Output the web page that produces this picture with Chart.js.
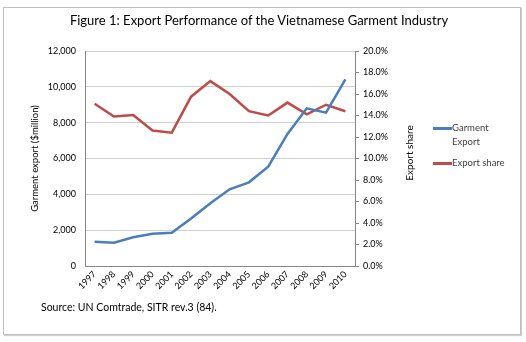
<!DOCTYPE html>
<html lang="en">
<head>
<meta charset="UTF-8">
<title>Export Performance of the Vietnamese Garment Industry</title>
<style>
  html, body { margin: 0; padding: 0; background: #fff; }
  body { width: 526px; height: 342px; position: relative; overflow: hidden; font-family: Lato, sans-serif; color: #404040; }
  #frame {
    position: absolute; left: 3px; top: 7px; width: 516px; height: 326px;
    border: 1px solid #bfbfbf; box-shadow: 1px 1px 1px #d0d0d0;
  }
  #chart { position: absolute; left: 0; top: 0; }
  #title {
    position: absolute; left: 0; width: 518px; top: 12px;
    text-align: center; font-size: 13px; color: #000;
  }
  #rightTitle {
    position: absolute; left: 409px; top: 153px; font-size: 10px; color: #000;
    white-space: nowrap; transform: translate(-50%, -50%) rotate(-90deg);
  }
  #source { position: absolute; left: 41px; top: 301px; font-size: 10.5px; color: #000; }
  #legend { position: absolute; left: 433px; top: 121px; font-size: 9.5px; color: #404040; }
  .item { display: flex; align-items: flex-start; margin-bottom: 7px; }
  .swatch { width: 19px; height: 2.5px; margin-top: 6px; flex: none; }
  .label { line-height: 14px; width: 56px; }
</style>
</head>
<body>
<div id="frame"></div>
<canvas id="chart" width="526" height="342"></canvas>
<div id="title">Figure 1: Export Performance of the Vietnamese Garment Industry</div>
<div id="rightTitle">Export share</div>
<div id="legend"></div>
<div id="source">Source: UN Comtrade, SITR rev.3 (84).</div>
<script src="https://cdn.jsdelivr.net/npm/chart.js"></script>
<script>
  // values
  const years = ["1997", "1998", "1999", "2000", "2001", "2002", "2003",
                 "2004", "2005", "2006", "2007", "2008", "2009", "2010"];
  const garmentExport = [1350, 1300, 1600, 1800, 1860, 2650, 3500,
                         4280, 4670, 5540, 7370, 8800, 8560, 10420];
  const exportShare = [15.1, 13.9, 14.05, 12.6, 12.4, 15.75, 17.2,
                       16.0, 14.4, 14.0, 15.2, 14.1, 15.0, 14.4];
  const seriesNames = ["Garment Export", "Export share"];
  const seriesColors = ["#4a7ebb", "#be4b48"];

  const axisColor = "#868686";
  const gridColor = "#d0d0d0";
  const tickFont = { family: "Lato", size: 9 };

  const ctx = document.getElementById("chart").getContext("2d");
  const chart = new Chart(ctx, {
    type: "line",
    data: {
      labels: years,
      datasets: [
        { label: seriesNames[0], data: garmentExport, yAxisID: "y",
          borderColor: seriesColors[0], backgroundColor: seriesColors[0] },
        { label: seriesNames[1], data: exportShare, yAxisID: "y1",
          borderColor: seriesColors[1], backgroundColor: seriesColors[1] },
      ],
    },
    options: {
      responsive: false,
      animation: false,
      elements: {
        line: { borderWidth: 2.5, tension: 0 },
        point: { radius: 0 },
      },
      layout: { padding: { left: 25, right: 107, top: 51, bottom: 36 } },
      plugins: {
        legend: { display: false },
        tooltip: { enabled: false },
      },
      scales: {
        x: {
          offset: true,
          grid: { display: false, drawTicks: false },
          border: { color: axisColor },
          ticks: { color: "#000", font: tickFont, autoSkip: false,
                   minRotation: 45, maxRotation: 45, padding: 3 },
          afterFit: (s) => { s.height = 40; },
        },
        y: {
          position: "left",
          min: 0, max: 12000,
          grid: { color: gridColor, drawTicks: false },
          border: { color: axisColor },
          ticks: {
            stepSize: 2000, color: "#000", font: tickFont, padding: 9,
            callback: (v) => v.toLocaleString("en-US"),
          },
          title: { display: true, text: "Garment export ($million)", color: "#000",
                   font: { family: "Lato", size: 9.5 } },
          afterFit: (s) => { s.width = 60; },
        },
        y1: {
          position: "right",
          min: 0, max: 20,
          grid: { drawOnChartArea: false, tickLength: 4, color: axisColor },
          border: { color: axisColor },
          ticks: {
            stepSize: 2, color: "#000", font: tickFont, padding: 4,
            callback: (v) => v.toFixed(1) + "%",
          },
          afterFit: (s) => { s.width = 64; },
        },
      },
    },
  });

  // legend built from the datasets
  const legend = document.getElementById("legend");
  chart.data.datasets.forEach((ds) => {
    const item = document.createElement("div");
    item.className = "item";
    item.innerHTML = '<span class="swatch" style="background:' + ds.borderColor +
      '"></span><span class="label">' + ds.label + "</span>";
    legend.appendChild(item);
  });
</script>
</body>
</html>
